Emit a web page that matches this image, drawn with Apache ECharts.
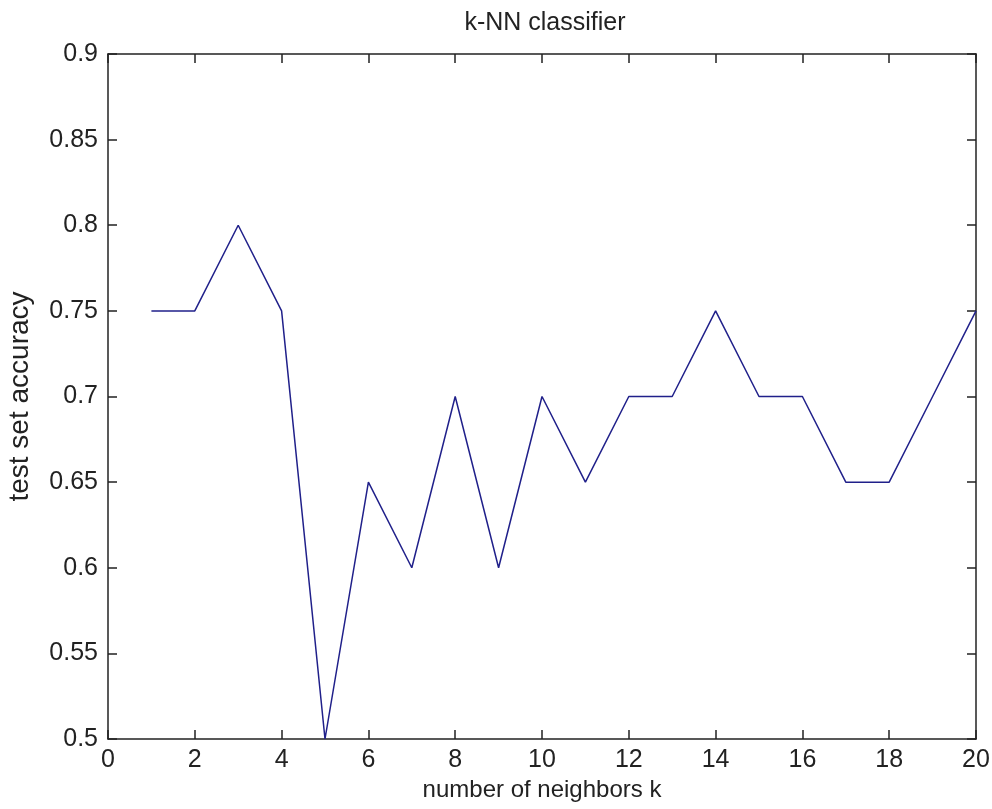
<!DOCTYPE html>
<html>
<head>
<meta charset="utf-8">
<script src="https://cdn.jsdelivr.net/npm/echarts@6/dist/echarts.min.js"></script>
<style>html,body{margin:0;padding:0;background:#fff;}#c{width:992px;height:809px;}</style>
</head>
<body>
<div id="c"></div>
<script>
const kValues = [1,2,3,4,5,6,7,8,9,10,11,12,13,14,15,16,17,18,19,20];
const accuracy = [0.75,0.75,0.8,0.75,0.5,0.65,0.6,0.7,0.6,0.7,0.65,0.7,0.7,0.75,0.7,0.7,0.65,0.65,0.7,0.75];
const titleText = 'k-NN classifier';
const xName = 'number of neighbors k';
const yName = 'test set accuracy';

const font = 'Liberation Sans, Arial, sans-serif';
const txt = '#222';
const lineC = '#222';
const chart = echarts.init(document.getElementById('c'), null, {renderer:'canvas'});
const common = {
  axisLine:{show:true, onZero:false, lineStyle:{color:lineC, width:1.5}},
  axisTick:{show:true, inside:true, length:9, lineStyle:{color:lineC, width:1.5}},
  splitLine:{show:false}
};
chart.setOption({
  animation:false,
  backgroundColor:'#fff',
  title:{text:titleText, left:540, textAlign:'center', top:6,
    textStyle:{fontFamily:font, fontSize:25, fontWeight:'normal', color:txt}},
  grid:{left:108, right:16, top:54, bottom:70, outerBoundsMode:'none', containLabel:false},
  xAxis:[
    Object.assign({type:'value', min:0, max:20, interval:2, position:'bottom',
      name:xName, nameLocation:'middle', nameGap:36,
      nameTextStyle:{fontFamily:font, fontSize:24, color:txt},
      axisLabel:{fontFamily:font, fontSize:25, color:txt, margin:9}}, common),
    Object.assign({type:'value', min:0, max:20, interval:2, position:'top',
      axisLabel:{show:false}}, common)
  ],
  yAxis:[
    Object.assign({type:'value', min:0.5, max:0.9, interval:0.05, position:'left',
      name:yName, nameLocation:'middle', nameGap:74,
      nameTextStyle:{fontFamily:font, fontSize:28, color:txt},
      axisLabel:{fontFamily:font, fontSize:25, color:txt, margin:10,
        formatter:v=>String(parseFloat(v.toFixed(2)))}}, common),
    Object.assign({type:'value', min:0.5, max:0.9, interval:0.05, position:'right',
      axisLabel:{show:false}}, common)
  ],
  series:[{type:'line', data:kValues.map((k,i)=>[k,accuracy[i]]), showSymbol:false,
    lineStyle:{color:'#20208a', width:1.5}, itemStyle:{color:'#20208a'}, clip:false}]
});
</script>
</body>
</html>
